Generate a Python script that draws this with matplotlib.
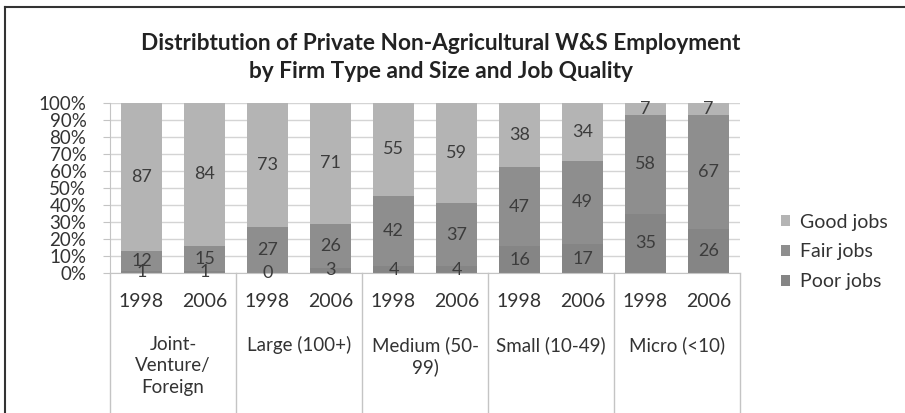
import numpy as np
import matplotlib
matplotlib.use("Agg")
import matplotlib.pyplot as plt
from matplotlib.lines import Line2D

plt.rcParams["font.family"] = ["Lato", "DejaVu Sans"]

# data
groups = ["Joint-\nVenture/\nForeign", "Large (100+)", "Medium (50-\n99)",
          "Small (10-49)", "Micro (<10)"]
years = ["1998", "2006"]
poor_jobs = [1, 1, 0, 3, 4, 4, 16, 17, 35, 26]
fair_jobs = [12, 15, 27, 26, 42, 37, 47, 49, 58, 67]
good_jobs = [87, 84, 73, 71, 55, 59, 38, 34, 7, 7]
series_names = ["Poor jobs", "Fair jobs", "Good jobs"]
series_colors = ["#858585", "#8e8e8e", "#b4b4b4"]

W, H = 905, 413
fig = plt.figure(figsize=(W / 100, H / 100), dpi=100)
fig.patch.set_facecolor("white")

# plot area in pixel terms
left, right, top, bottom = 110, 740, 103, 273
ax = fig.add_axes([left / W, 1 - bottom / H, (right - left) / W, (bottom - top) / H])

vals = np.array([poor_jobs, fair_jobs, good_jobs], dtype=float)
shares = vals / vals.sum(axis=0) * 100   # 100% stacked, like the source
x = np.arange(vals.shape[1])

base = np.zeros(len(x))
handles = []
for i, (name, col) in enumerate(zip(series_names, series_colors)):
    b = ax.bar(x, shares[i], 0.64, bottom=base, color=col, zorder=2, label=name)
    handles.append(b)
    for xi, v, h, b0 in zip(x, vals[i], shares[i], base):
        ax.text(xi, b0 + h / 2, f"{v:.0f}", ha="center", va="center",
                fontsize=13, color="#3c3c3c", zorder=3)
    base = base + shares[i]

ax.set_xlim(-0.5, len(x) - 0.5)
ax.set_ylim(0, 100)
ax.set_yticks(np.arange(0, 101, 10))
ax.set_yticklabels([f"{t}%" for t in range(0, 101, 10)], fontsize=13.5, color="#333333")
ax.tick_params(axis="y", length=5, color="#c4c4c4", pad=12)
ax.set_xticks([])
ax.grid(axis="y", color="#d4d4d4", linewidth=1, zorder=0)
for s in ["top", "right"]:
    ax.spines[s].set_visible(False)
ax.spines["left"].set_color("#c4c4c4")
ax.spines["bottom"].set_color("#c4c4c4")

# multi-level category axis
tr = ax.get_xaxis_transform()
for xi in x:
    ax.text(xi, -0.17, years[xi % 2], ha="center", va="center",
            fontsize=14, color="#333333", transform=tr)
for g, name in enumerate(groups):
    ax.text(2 * g + 0.5, -0.37, name, ha="center", va="top", fontsize=13.5,
            color="#333333", linespacing=1.32, transform=tr)
for g in range(len(groups) + 1):
    ax.add_line(Line2D([2 * g - 0.5, 2 * g - 0.5], [0, -1.0], transform=tr,
                       color="#c4c4c4", linewidth=1, clip_on=False))

# legend
ax.legend(handles=handles[::-1], loc="center left",
          bbox_to_anchor=(1.038, 0.124), frameon=False, fontsize=14,
          handlelength=0.45, handleheight=0.45, handletextpad=0.5,
          labelspacing=0.66, labelcolor="#333333", borderpad=0.4)

fig.text(441 / W, 1 - 57.5 / H,
         "Distribtution of Private Non-Agricultural W&S Employment\n"
         "by Firm Type and Size and Job Quality",
         ha="center", va="center", fontsize=16.3, fontweight="bold",
         color="#222222", linespacing=1.4)

# chart frame (cropped in the reference: only left and top edges visible)
fig.add_artist(Line2D([5 / W, 5 / W], [0, 1 - 7 / H], transform=fig.transFigure,
                      color="#333333", linewidth=1.5))
fig.add_artist(Line2D([5 / W, 1], [1 - 7 / H, 1 - 7 / H], transform=fig.transFigure,
                      color="#333333", linewidth=1.5))

fig.savefig("out.png", dpi=100)
